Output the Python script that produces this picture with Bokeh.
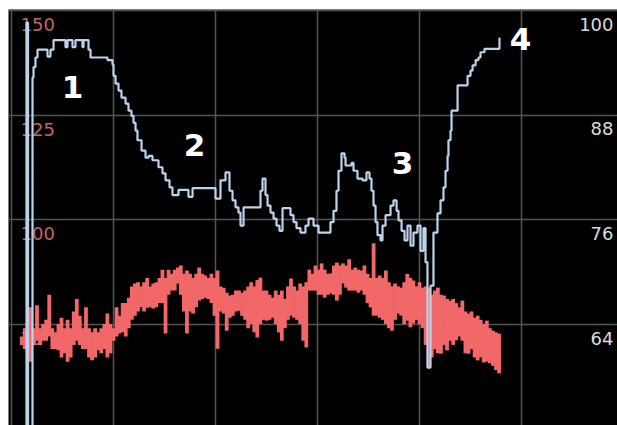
from bokeh.plotting import figure
from bokeh.models import Range1d, Grid, FixedTicker
from bokeh.core.properties import value
from bokeh.embed import file_html
from bokeh.resources import INLINE

# ---------------- data ----------------
x_grid = [0, 100, 200, 300, 400, 500]
left_ticks = [150, 125, 100, 75]      # pulse scale (red)
right_ticks = [100, 88, 76, 64]       # SpO2 scale (blue)

# SpO2 (blue, stepped) : time, value
blue_t = [13.7, 14.7, 16.2, 20.6, 21.6, 23.5, 25.5, 35.3, 38.2, 41.2, 52.9, 54.9, 59.8, 62.7, 69.6, 70.6,
          75.5, 77.5, 94.1, 99.0, 100.0, 102.0, 104.9, 107.8, 111.8, 114.7, 117.6, 119.6, 121.6, 123.5,
          127.5, 131.4, 134.3, 138.2, 144.1, 148.0, 151.0, 154.9, 157.8, 163.7, 173.5, 177.5, 200.0,
          204.9, 209.8, 213.7, 216.7, 219.6, 222.5, 224.5, 227.5, 244.1, 246.1, 249.0, 251.0, 253.9,
          256.9, 259.8, 262.7, 265.7, 273.5, 276.5, 279.4, 283.3, 288.2, 291.2, 296.1, 301.0, 312.7,
          315.7, 318.6, 320.6, 323.5, 326.5, 327.5, 333.3, 335.3, 339.2, 344.1, 348.0, 351.0, 352.9,
          354.9, 356.9, 358.8, 361.8, 363.7, 366.7, 371.6, 374.5, 377.5, 379.4, 382.4, 385.3, 388.2,
          391.2, 394.1, 398.0, 401.0, 403.9, 405.9, 407.8, 410.8, 413.7, 417.6, 420.6, 423.5, 425.5,
          427.5, 428.4, 430.4, 431.4, 437.3, 447.1, 450.0, 452.0, 455.0, 457.8, 459.8, 463.7, 478.4, 478.9]
blue_v = [50.0, 98.6, 50.0, 92.3, 93.5, 94.6, 95.5, 94.7, 95.5, 96.6, 95.8, 96.6, 95.8, 96.6, 95.8, 96.6,
          95.5, 94.6, 94.3, 93.8, 92.5, 91.6, 90.8, 90.0, 89.3, 88.5, 87.9, 87.1, 86.2, 85.1,
          83.9, 83.1, 83.3, 82.8, 82.0, 81.3, 80.5, 79.7, 78.8, 79.4, 78.6, 79.6, 78.4,
          80.5, 81.4, 79.3, 78.2, 77.4, 76.8, 75.3, 77.4, 79.3, 80.7, 78.8, 77.6, 76.8,
          76.1, 75.3, 74.7, 77.3, 76.5, 75.7, 75.0, 74.5, 75.3, 76.1, 75.3, 74.5, 75.7,
          77.0, 79.3, 81.6, 83.6, 83.1, 82.2, 82.5, 81.6, 80.7, 80.5, 81.4, 80.7, 79.3,
          77.6, 75.7, 74.2, 73.6, 75.3, 76.5, 77.6, 78.2, 77.0, 75.9, 74.7, 73.6, 75.3,
          73.0, 74.5, 75.3, 72.4, 75.0, 71.1, 59.0, 68.4, 74.5, 76.7, 78.2, 79.7, 81.6,
          83.3, 85.1, 86.2, 88.5, 91.4, 92.5, 93.1, 93.7, 94.3, 94.6, 95.2, 95.6, 96.8, 96.8]

# Pulse (red) : sampled every 3 time units from t=10, high / low of each sample
red_t0 = 10
red_dt = 3
red_hi = [72, 74, 73, 79, 74, 79.5, 74, 75, 76, 82,
          74, 73, 75, 76.5, 74, 76, 74, 78, 81, 77,
          74, 79, 74, 73, 74, 73, 74, 75, 77.5, 75,
          74, 79, 77, 80, 80, 81.3, 84, 84.7, 85, 84,
          85, 86, 84, 84.7, 85, 86, 88, 86, 88, 87,
          88, 88.5, 89, 87, 87.8, 87, 86, 87, 88.5, 87,
          86.6, 86, 87, 86, 87.8, 84, 83.7, 82.5, 81.8, 82,
          83, 83, 82.5, 83, 84, 85, 84, 85.5, 86.1, 83,
          83, 82, 81.3, 83, 82, 83, 81, 84, 85.9, 84,
          83, 84.7, 84, 85, 88, 87, 89, 88, 89.5, 88,
          87, 87.1, 89, 89.7, 89, 89.5, 89, 90.5, 88, 88.5,
          88, 87.8, 89, 87, 86, 94.3, 86, 86.6, 86, 87.8,
          85, 84, 84.7, 84, 83.7, 85, 87, 86, 85.4, 84,
          85, 83.7, 84, 83.7, 82, 83, 83.7, 82, 81.8, 81,
          80.6, 81, 80, 79, 80.6, 78, 77.5, 78, 76.5, 77,
          76, 75, 75.8, 74, 73.4, 73, 72.7]
red_lo = [70, 69, 70, 66, 70, 71, 70, 71, 71, 72,
          69, 69, 68.7, 67, 68, 66, 67, 70, 71, 70,
          69, 69, 67, 66.3, 67, 68.7, 68, 69, 67, 68,
          71, 72, 72.7, 73, 72, 74, 76, 77, 78, 79,
          78, 78.9, 79, 78.7, 79, 80, 80, 72.7, 82, 83,
          83, 84.7, 82, 78, 72.7, 78, 77.5, 79, 80.6, 81,
          81.3, 81, 80, 77, 69.1, 78, 77.5, 73.4, 76.5, 77,
          78, 78.2, 77, 76, 74, 75, 73, 71.8, 75, 76,
          75.8, 76, 76.5, 75, 73, 71, 74, 76, 77, 76.5,
          76, 75, 71, 69.4, 83, 83, 83, 82, 82, 81.3,
          82, 82.3, 82, 80.6, 82, 84.7, 83.7, 83, 83, 83,
          82.5, 83, 82, 80, 79, 77, 77, 76.5, 76, 75,
          74, 73.4, 76, 77.5, 77, 75, 75.8, 74.2, 75.1, 76,
          75, 74, 70, 64.6, 67, 69, 68, 67.9, 70, 68.7,
          71, 70, 71.1, 72, 71, 68, 67.9, 69, 67, 66.3,
          67, 65.8, 66, 65.6, 65, 64, 63.2]
red_t = [red_t0 + red_dt * i for i in range(len(red_hi))]

marks = ["1", "2", "3", "4"]
mark_t = [59.8, 179.4, 383.3, 499.0]
mark_v = [131.6, 117.9, 113.6, 143.2]

# ---------------- figure ----------------
p = figure(width=617, height=425, output_backend="svg", toolbar_location=None,
           x_axis_type=None, y_axis_type=None,
           x_range=Range1d(-2.94, 594.1), y_range=Range1d(50.72, 150.24),
           min_border=0, min_border_left=8, min_border_top=9,
           background_fill_color="black", border_fill_color="white",
           outline_line_color=None)
p.extra_y_ranges = {"spo2": Range1d(52.35, 100.11)}

p.add_layout(Grid(dimension=0, ticker=FixedTicker(ticks=x_grid),
                  grid_line_color="#555555", grid_line_width=1.5))
p.add_layout(Grid(dimension=1, ticker=FixedTicker(ticks=left_ticks),
                  grid_line_color="#555555", grid_line_width=1.5))

# tick labels inside the plot
p.text(x=[8.8] * len(left_ticks), y=left_ticks, text=[str(t) for t in left_ticks],
       text_color="#c46464", text_font=value("DejaVu Sans"), text_font_size="18px",
       text_align="left", text_baseline="middle", y_offset=14)
p.text(x=[590.2] * len(right_ticks), y=right_ticks, text=[str(t) for t in right_ticks],
       y_range_name="spo2", text_color="#dcdcdc", text_font=value("DejaVu Sans"),
       text_font_size="18px", text_align="right", text_baseline="middle", y_offset=14)

# pulse band
p.vbar(x=red_t, top=red_hi, bottom=red_lo, width=3.7, fill_color="#f26868", line_color=None)

# SpO2 stepped line
p.step(x=blue_t, y=blue_v, mode="after", y_range_name="spo2",
       line_color="#bcd3ec", line_width=2.2)

# numbered markers
p.text(x=mark_t, y=mark_v, text=marks, text_color="white",
       text_font=value("DejaVu Sans"), text_font_style="bold", text_font_size="31px",
       text_align="center", text_baseline="middle")

open("out.html", "w").write(file_html(p, INLINE))
